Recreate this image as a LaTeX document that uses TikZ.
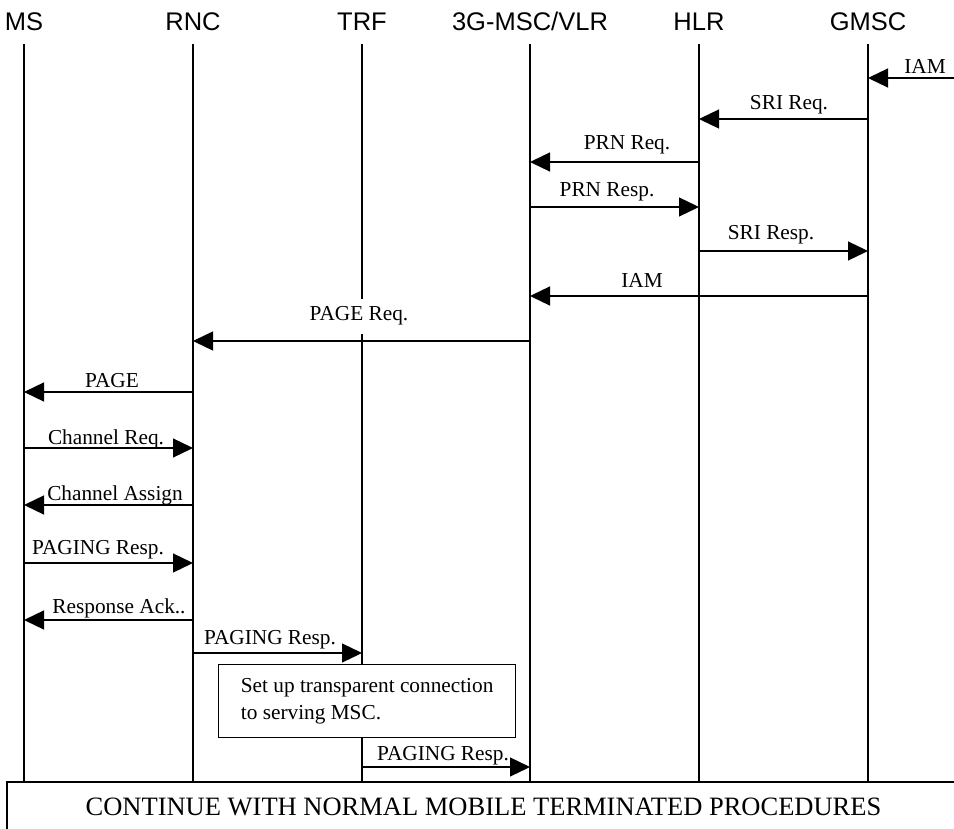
\documentclass[tikz,border=0pt]{standalone}
\usepackage{fontspec}
\setmainfont{Liberation Serif}
\newfontfamily\headfont{Liberation Sans}
\usepackage{tikz}
\usetikzlibrary{arrows.meta}
\tikzstyle{entity}=[font=\headfont\fontsize{25.5}{30}\selectfont,inner sep=0pt,anchor=base]
\tikzstyle{life} = [draw,line width=1.5pt]
\tikzstyle{msg} = [draw,line width=1.3pt,-{Triangle[length=20pt,width=19pt]}]
\tikzstyle{lbl}=[font=\fontsize{21.3}{26}\selectfont,anchor=base,fill=white,inner sep=1pt]
\tikzstyle{notebox}=[draw,line width=1.3pt,fill=white,anchor=north west,minimum width=297pt,minimum height=73pt,inner xsep=20.5pt,align=left,font=\fontsize{21.3}{27}\selectfont]
\tikzstyle{endbox}=[draw,line width=1.3pt,fill=white,minimum width=953pt,minimum height=50pt,font=\fontsize{26.5}{32}\selectfont]

\begin{document}
\begin{tikzpicture}[x=1pt,y=-1pt]
        \useasboundingbox (0,0) rectangle (954,829);
        % entities
        \node[entity] (ms) at (24,31) {MS};
        \node[entity] (rnc) at (193,31) {RNC};
        \node[entity] (trf) at (362,31) {TRF};
        \node[entity] (msc) at (530,31) {3G-MSC/VLR};
        \node[entity] (hlr) at (699,31) {HLR};
        \node[entity] (gmsc) at (868,31) {GMSC};
        \node[endbox] (cont) at (483.5,807) {CONTINUE WITH NORMAL MOBILE TERMINATED PROCEDURES};
        % rows
        \coordinate (top) at (0,44);
        \coordinate (r1) at (0,78);
        \coordinate (r2) at (0,119);
        \coordinate (r3) at (0,162);
        \coordinate (r4) at (0,207);
        \coordinate (r5) at (0,251);
        \coordinate (r6) at (0,296);
        \coordinate (r7) at (0,341);
        \coordinate (r8) at (0,392);
        \coordinate (r9) at (0,448);
        \coordinate (r10) at (0,505);
        \coordinate (r11) at (0,563);
        \coordinate (r12) at (0,620);
        \coordinate (r13) at (0,653);
        \coordinate (r14) at (0,767);
        \coordinate (ext) at (954,78);
        % lifelines
        \draw[life] (ms |- top) to (ms |- cont.north);
        \draw[life] (rnc |- top) to (rnc |- cont.north);
        \draw[life] (trf |- top) to (trf |- cont.north);
        \draw[life] (msc |- top) to (msc |- cont.north);
        \draw[life] (hlr |- top) to (hlr |- cont.north);
        \draw[life] (gmsc |- top) to (gmsc |- cont.north);
        % labels
        \node[lbl] (l1) at (925,74) {IAM};
        \node[lbl] (l2) at (789,110) {SRI Req.};
        \node[lbl] (l3) at (627,150) {PRN Req.};
        \node[lbl] (l4) at (607,197) {PRN Resp.};
        \node[lbl] (l5) at (771,240) {SRI Resp.};
        \node[lbl] (l6) at (642,288) {IAM};
        \node[lbl,inner ysep=8pt] (l7) at (359,321) {PAGE Req.};
        \node[lbl] (l8) at (112,387) {PAGE};
        \node[lbl] (l9) at (106,444) {Channel Req.};
        \node[lbl] (l10) at (115,500) {Channel Assign};
        \node[lbl] (l11) at (98,554) {PAGING Resp.};
        \node[lbl] (l12) at (119,613) {Response Ack..};
        \node[lbl] (l13) at (270,644) {PAGING Resp.};
        \node[lbl] (l14) at (443,760) {PAGING Resp.};
        \node[notebox] (setup) at (218,664) {Set up transparent connection\\to serving MSC.};
        % messages
        \draw[msg] (ext) to (gmsc |- r1);
        \draw[msg] (gmsc |- r2) to (hlr |- r2);
        \draw[msg] (hlr |- r3) to (msc |- r3);
        \draw[msg] (msc |- r4) to (hlr |- r4);
        \draw[msg] (hlr |- r5) to (gmsc |- r5);
        \draw[msg] (gmsc |- r6) to (msc |- r6);
        \draw[msg] (msc |- r7) to (rnc |- r7);
        \draw[msg] (rnc |- r8) to (ms |- r8);
        \draw[msg] (ms |- r9) to (rnc |- r9);
        \draw[msg] (rnc |- r10) to (ms |- r10);
        \draw[msg] (ms |- r11) to (rnc |- r11);
        \draw[msg] (rnc |- r12) to (ms |- r12);
        \draw[msg] (rnc |- r13) to (trf |- r13);
        \draw[msg] (trf |- r14) to (msc |- r14);
      \end{tikzpicture}
\end{document}
